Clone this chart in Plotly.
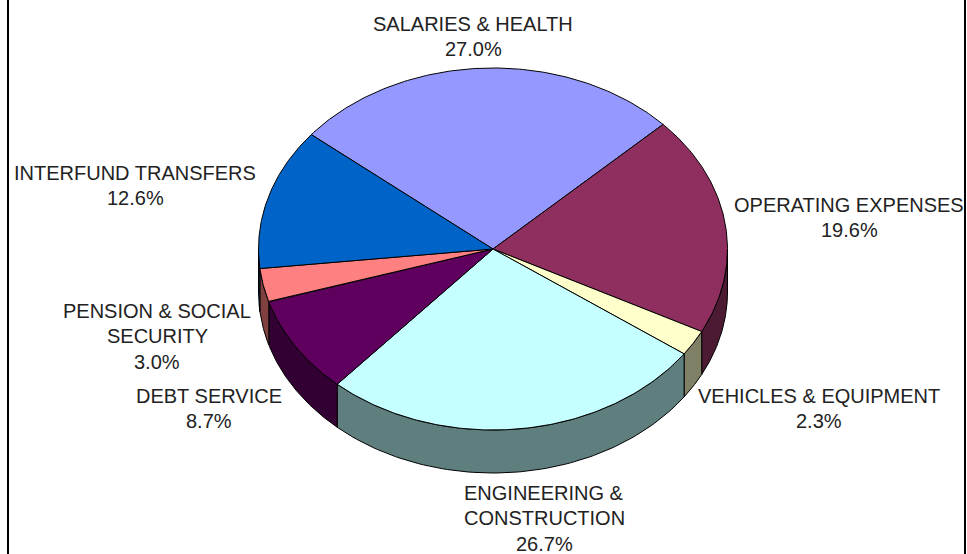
import numpy as np
import plotly.graph_objects as go

categories = ["SALARIES & HEALTH", "OPERATING EXPENSES", "VEHICLES & EQUIPMENT",
              "ENGINEERING & CONSTRUCTION", "DEBT SERVICE", "PENSION & SOCIAL SECURITY",
              "INTERFUND TRANSFERS"]
values = [27.0, 19.6, 2.3, 26.7, 8.7, 3.0, 12.6]
top_colors = ["#9598ff", "#8f2f5f", "#ffffcc", "#c6ffff", "#5f005f", "#ff8080", "#0063c8"]
side_colors = ["#4c4c80", "#4d1a33", "#808066", "#5f7f7f", "#330033", "#804040", "#003366"]
label_lines = [["SALARIES & HEALTH", "27.0%"],
               ["OPERATING EXPENSES", "19.6%"],
               ["VEHICLES & EQUIPMENT", "2.3%"],
               ["ENGINEERING &", "CONSTRUCTION", "26.7%"],
               ["DEBT SERVICE", "8.7%"],
               ["PENSION & SOCIAL", "SECURITY", "3.0%"],
               ["INTERFUND TRANSFERS", "12.6%"]]
label_x = [473, 849, 819, 544, 209, 157, 135]
label_y = [24, 205, 396, 493, 396, 311, 173]

CX, CY, RX, RY, DEPTH = 493, 249, 234.5, 181, 43
START = -50.8
LINE_H = 25.3


def pt(deg):
    r = np.radians(deg)
    return CX + RX * np.sin(r), CY - RY * np.cos(r)


fig = go.Figure()
total = sum(values)
edges = START + np.concatenate([[0], np.cumsum(values)]) * 360 / total

# side walls (visible front half only)
for i in range(len(values)):
    a, b = max(edges[i], 90), min(edges[i + 1], 270)
    if b <= a:
        continue
    t = np.linspace(a, b, 80)
    x, y = pt(t)
    fig.add_trace(go.Scatter(
        x=np.concatenate([x, x[::-1], x[:1]]),
        y=np.concatenate([y, y[::-1] + DEPTH, y[:1]]),
        mode="lines", fill="toself", fillcolor=side_colors[i],
        line=dict(color="black", width=1), hoverinfo="skip", showlegend=False))

# top faces
for i in range(len(values)):
    t = np.linspace(edges[i], edges[i + 1], 120)
    x, y = pt(t)
    fig.add_trace(go.Scatter(
        x=np.concatenate([[CX], x, [CX]]),
        y=np.concatenate([[CY], y, [CY]]),
        mode="lines", fill="toself", fillcolor=top_colors[i],
        line=dict(color="black", width=1), hoverinfo="skip", showlegend=False))

annotations = []
for lines, lx, ly in zip(label_lines, label_x, label_y):
    for j, line in enumerate(lines):
        annotations.append(dict(x=lx, y=ly + j * LINE_H, text=line, showarrow=False,
                                xanchor="center", yanchor="middle",
                                font=dict(family="Liberation Sans", size=20, color="#222222")))

shapes = [dict(type="line", x0=8, x1=8, y0=0, y1=554, line=dict(color="black", width=2)),
          dict(type="line", x0=965, x1=965, y0=0, y1=554, line=dict(color="black", width=2))]

fig.update_layout(
    width=967, height=554, margin=dict(l=0, r=0, t=0, b=0, pad=0),
    paper_bgcolor="white", plot_bgcolor="white", showlegend=False,
    xaxis=dict(range=[0, 967], visible=False, fixedrange=True),
    yaxis=dict(range=[554, 0], visible=False, fixedrange=True),
    annotations=annotations, shapes=shapes)
fig.write_html("out.html", config=dict(displayModeBar=False),
               post_script="document.body.style.margin='0';document.body.style.overflow='hidden';")
